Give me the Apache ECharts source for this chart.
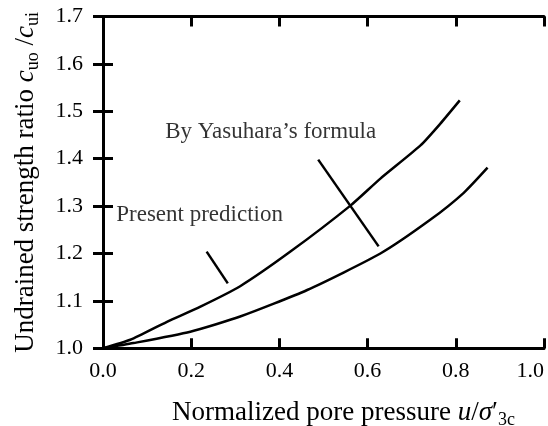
<!DOCTYPE html>
<html>
<head>
<meta charset="utf-8">
<script src="https://cdn.jsdelivr.net/npm/echarts@6/dist/echarts.min.js"></script>
<style>
  html, body { margin: 0; padding: 0; background: #fff; }
  #chart { width: 548px; height: 426px; }
</style>
</head>
<body>
<div id="chart"></div>
<script>
// values
const presentX = [0, 0.062, 0.145, 0.221, 0.311, 0.425, 0.561, 0.629, 0.720, 0.765, 0.809];
const presentY = [1.0, 1.018, 1.056, 1.088, 1.131, 1.204, 1.301, 1.358, 1.428, 1.474, 1.523];
const yasuharaX = [0, 0.069, 0.198, 0.311, 0.463, 0.629, 0.742, 0.818, 0.872];
const yasuharaY = [1.0, 1.011, 1.035, 1.067, 1.123, 1.200, 1.271, 1.328, 1.381];
const pointerPresent = [[0.235, 1.204], [0.283, 1.137]];
const pointerYasuhara = [[0.488, 1.398], [0.625, 1.215]];
const labels = [
  { name: "By Yasuhara\u2019s formula", value: [0.141, 1.457] },
  { name: "Present prediction", value: [0.030, 1.281] },
];

const FONT = "'Liberation Serif', 'Times New Roman', serif";
const zip = (xs, ys) => xs.map((x, i) => [x, ys[i]]);

const chart = echarts.init(document.getElementById("chart"));

const plainAxis = {
  axisLine: { show: true, lineStyle: { color: "#000", width: 3 } },
  axisTick: { show: true, inside: true, length: 10, lineStyle: { color: "#000", width: 3 } },
  splitLine: { show: false },
};

const titleRich = {
  n: { fontFamily: FONT, fontSize: 27, color: "#000", lineHeight: 32 },
  i: { fontFamily: FONT, fontSize: 27, fontStyle: "italic", color: "#000", lineHeight: 32 },
  s: { fontFamily: FONT, fontSize: 18, color: "#000", lineHeight: 18, verticalAlign: "bottom" },
};

const curve = (data, smooth) => ({
  type: "line",
  data: data,
  showSymbol: false,
  smooth: smooth,
  lineStyle: { color: "#000", width: 2.5 },
  silent: true,
});

const option = {
  animation: false,
  grid: { left: 103, right: 4, top: 16.5, bottom: 77.7, containLabel: false, outerBoundsMode: "none" },
  xAxis: [
    {
      ...plainAxis,
      type: "value",
      min: 0, max: 1, interval: 0.2,
      axisLabel: {
        color: "#000", fontFamily: FONT, fontSize: 22, margin: 12,
        alignMaxLabel: "right",
        formatter: (v) => v.toFixed(1),
      },
      name: "{n|Normalized pore pressure }{i|u}{n|/}{i|\u03c3}{n|\u2032}{s|3c}",
      nameLocation: "middle",
      nameGap: 49,
      nameTextStyle: { padding: [0, 0, 0, 40], rich: titleRich },
    },
    {
      ...plainAxis,
      type: "value",
      position: "top",
      min: 0, max: 1, interval: 0.2,
      axisLabel: { show: false },
    },
  ],
  yAxis: [
    {
      ...plainAxis,
      type: "value",
      min: 1.0, max: 1.7, interval: 0.1,
      axisLabel: {
        color: "#000", fontFamily: FONT, fontSize: 22, margin: 20,
        formatter: (v) => v.toFixed(1),
      },
      name: "{n|Undrained strength ratio }{i|c}{s|uo}{n| /}{i|c}{s|ui}",
      nameLocation: "middle",
      nameRotate: 90,
      nameGap: 61,
      nameTextStyle: { rich: titleRich },
    },
    {
      ...plainAxis,
      type: "value",
      position: "right",
      min: 1.0, max: 1.7, interval: 0.1,
      axisLabel: { show: false },
    },
  ],
  series: [
    curve(zip(presentX, presentY), 0.2),
    curve(zip(yasuharaX, yasuharaY), 0.2),
    curve(pointerPresent, false),
    curve(pointerYasuhara, false),
    {
      type: "scatter",
      data: labels,
      symbolSize: 0,
      silent: true,
      label: {
        show: true,
        position: "right",
        distance: 0,
        formatter: "{b}",
        color: "#000",
        fontFamily: FONT,
        fontSize: 23,
      },
    },
  ],
};

chart.setOption(option);
</script>
</body>
</html>
